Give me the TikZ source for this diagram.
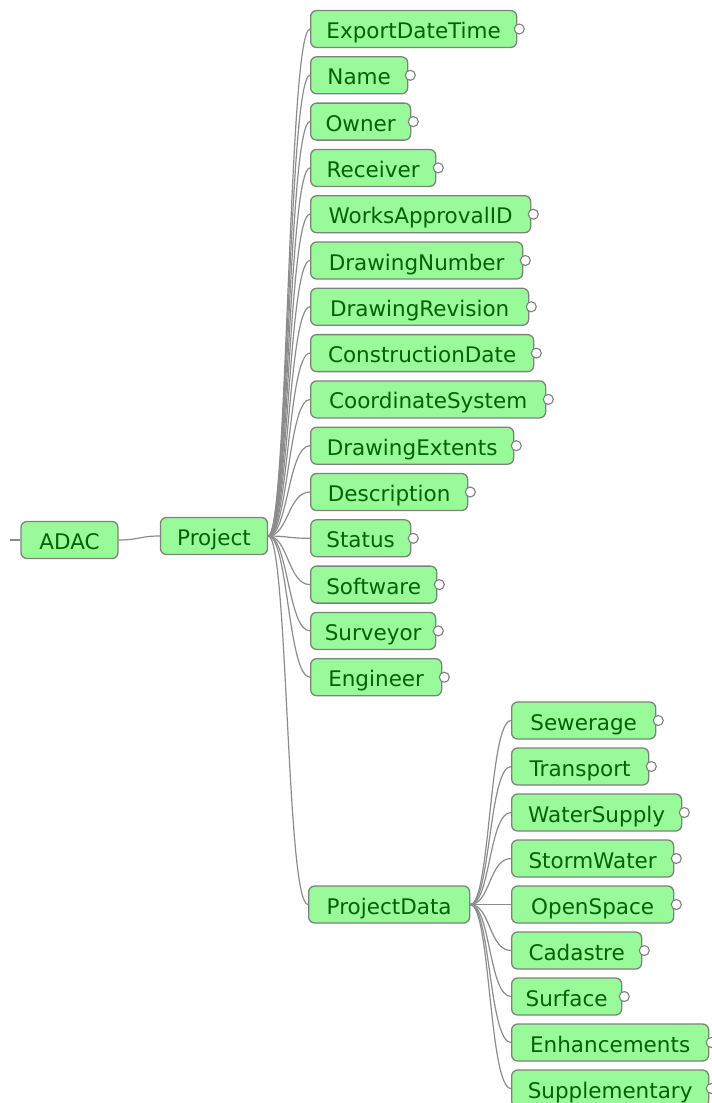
\documentclass[tikz,border=0pt]{standalone}
\usepackage{fontspec}
\newfontfamily\boxfont{DejaVu Sans}
\definecolor{boxfill}{RGB}{152,250,152}
\definecolor{boxline}{RGB}{128,128,128}
\definecolor{boxtext}{RGB}{0,100,0}
\definecolor{connline}{RGB}{140,140,140}
\tikzset{
  mmbox/.style={draw=boxline, line width=1.3pt, fill=boxfill, rounded corners=6pt,
    minimum height=37pt, inner xsep=4pt, inner ysep=0pt, text=boxtext,
    text height=19pt, text depth=0pt,
    font={\boxfont\fontsize{21.5}{24}\selectfont}},
  leaf/.style={mmbox, anchor=west},
  conn/.style={draw=connline, line width=1.2pt},
  knob/.style={draw=boxline, line width=1.1pt, fill=white}
}
\begin{document}
\begin{tikzpicture}[x=1pt,y=-1pt]
\useasboundingbox (0,0) rectangle (712,1103);
% root nodes
\node[mmbox, minimum width=97pt] (ADAC) at (69.5,540) {ADAC};
\node[mmbox, minimum width=107pt] (Project) at (214,536) {Project};
\node[leaf, minimum width=161pt] (ProjectData) at (308,904.5) {ProjectData};
\coordinate (stub) at (10,540);
\draw[conn] (stub) -- (ADAC.west);
\draw[conn] (ADAC.east) .. controls +(20,0) and +(-20,0) .. (Project.west);
\draw[conn] (Project.east) .. controls +(20,0) and +(-22,0) .. (ProjectData.west);
% children of Project
\foreach \name/\txt/\w [count=\i from 0] in {
  ExportDateTime/ExportDateTime/206,
  Name/Name/97,
  Owner/Owner/100,
  Receiver/Receiver/125,
  WorksApprovalID/WorksApprovalID/220,
  DrawingNumber/DrawingNumber/212,
  DrawingRevision/DrawingRevision/218,
  ConstructionDate/ConstructionDate/223,
  CoordinateSystem/CoordinateSystem/235,
  DrawingExtents/DrawingExtents/203,
  Description/Description/157,
  Status/Status/100,
  Software/Software/126,
  Surveyor/Surveyor/125,
  Engineer/Engineer/131}{
  \node[leaf, minimum width=\w pt] (\name) at (310,{29+46.3*\i}) {\txt};
  \draw[conn] (Project.east) .. controls +(20,0) and +(-22,0) .. (\name.west);
  \draw[knob] ([xshift=2pt]\name.east) circle[radius=5pt];
}
% children of ProjectData
\foreach \name/\txt/\w [count=\i from 0] in {
  Sewerage/Sewerage/144,
  Transport/Transport/137,
  WaterSupply/WaterSupply/170,
  StormWater/StormWater/162,
  OpenSpace/OpenSpace/162,
  Cadastre/Cadastre/130,
  Surface/Surface/110,
  Enhancements/Enhancements/197,
  Supplementary/Supplementary/197}{
  \node[leaf, minimum width=\w pt] (\name) at (511,{720.5+46*\i}) {\txt};
  \draw[conn] (ProjectData.east) .. controls +(20,0) and +(-22,0) .. (\name.west);
  \draw[knob] ([xshift=2pt]\name.east) circle[radius=5pt];
}
\end{tikzpicture}
\end{document}
